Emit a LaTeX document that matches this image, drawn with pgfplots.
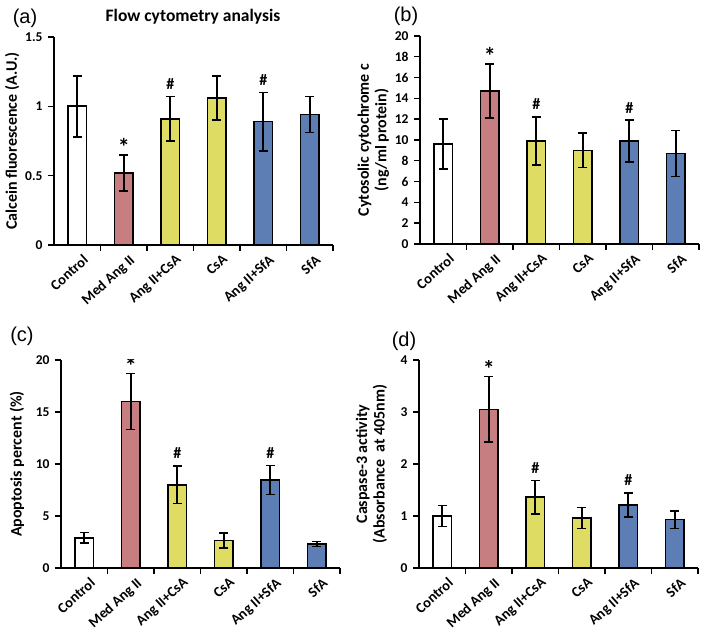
\documentclass[border=0pt]{standalone}
\usepackage{fontspec}
\setmainfont{Carlito}
\newfontfamily\letterfont{Liberation Sans}
\usepackage{pgfplots}
\pgfplotsset{compat=1.18}
\definecolor{barpink}{HTML}{C67E80}
\definecolor{baryellow}{HTML}{DEDC62}
\definecolor{barblue}{HTML}{5C7EB4}

\pgfplotsset{
  panel/.style={
    scale only axis, width=279pt, height=208pt,
    anchor=south west,
    axis lines*=left, axis line style={-, line width=1.7pt},
    xmin=-0.5, xmax=5.5, ymin=0,
    xtick={0,...,5},
    xticklabels={Control,Med Ang II,Ang II+CsA,CsA,Ang II+SfA,SfA},
    major x tick style={draw=none},
    extra x ticks={0.5,1.5,...,5.5},
    extra x tick labels={},
    extra x tick style={grid=none, major x tick style={draw=black}},
    tick align=outside, major tick length=6pt,
    tick style={line width=1.4pt, black},
    x tick label style={xshift=5pt, yshift=-2pt, rotate=42, anchor=north east, inner sep=0.5pt,
      font=\bfseries\fontsize{14.5}{14.5}\selectfont},
    y tick label style={xshift=-2pt, font=\bfseries\fontsize{13.5}{13.5}\selectfont},
    /pgf/number format/assume math mode=true,
    ylabel style={font=\bfseries\fontsize{16}{17.5}\selectfont, align=center, anchor=center},
  },
  bars/.style={draw=black, line width=1.7pt, bar shift=0pt,
    /pgfplots/error bars/y dir=both, /pgfplots/error bars/y explicit,
    /pgfplots/error bars/error bar style={line width=1.6pt, black},
    /pgfplots/error bars/error mark options={rotate=90, line width=1.6pt, mark size=4.5pt, black}},
}
% markers sit on the top of the error bar they belong to
\tikzset{
  sig/.style={font=\bfseries\fontsize{16}{16}\selectfont, anchor=south, inner sep=0pt, yshift=7pt},
  star/.style={font=\bfseries\fontsize{24}{24}\selectfont, anchor=south, inner sep=0pt, yshift=-1pt},
}

\begin{document}
\begin{tikzpicture}
\useasboundingbox (0,0) rectangle (701pt,634pt);

% (a) calcein
\begin{axis}[panel, ybar, bar width=0.4, at={(54pt,389pt)},
  ymax=1.5, ytick={0,0.5,1,1.5},
  ylabel={Calcein fluorescence (A.U.)},
  ylabel style={at={(axis description cs:-0.15,0.5)}}]
\addplot[bars, fill=white] coordinates {(0,1.00) +- (0,0.22)};
\addplot[bars, fill=barpink] coordinates {(1,0.52) +- (0,0.13)};
\addplot[bars, fill=baryellow] coordinates {(2,0.91) +- (0,0.16) (3,1.06) +- (0,0.16)};
\addplot[bars, fill=barblue] coordinates {(4,0.89) +- (0,0.21) (5,0.94) +- (0,0.13)};
\node[star] at (axis cs:1,0.65) {*};
\node[sig] at (axis cs:2,1.07) {\#};
\node[sig] at (axis cs:4,1.10) {\#};
\end{axis}

% (b) cytochrome c
\begin{axis}[panel, ybar, bar width=0.4, at={(420pt,390pt)},
  ymax=20, ytick={0,2,...,20},
  ylabel={Cytosolic cytochrome c\\(ng/ml protein)},
  ylabel style={at={(axis description cs:-0.167,0.5)}}]
\addplot[bars, fill=white] coordinates {(0,9.6) +- (0,2.4)};
\addplot[bars, fill=barpink] coordinates {(1,14.7) +- (0,2.6)};
\addplot[bars, fill=baryellow] coordinates {(2,9.9) +- (0,2.3) (3,9.0) +- (0,1.65)};
\addplot[bars, fill=barblue] coordinates {(4,9.9) +- (0,2.0) (5,8.7) +- (0,2.2)};
\node[star] at (axis cs:1,17.3) {*};
\node[sig] at (axis cs:2,12.2) {\#};
\node[sig] at (axis cs:4,11.9) {\#};
\end{axis}

% (c) apoptosis
\begin{axis}[panel, ybar, bar width=0.4, at={(61pt,66pt)},
  ymax=20, ytick={0,5,...,20},
  ylabel={Apoptosis percent (\%)},
  ylabel style={at={(axis description cs:-0.158,0.5)}}]
\addplot[bars, fill=white] coordinates {(0,2.9) +- (0,0.5)};
\addplot[bars, fill=barpink] coordinates {(1,16.0) +- (0,2.7)};
\addplot[bars, fill=baryellow] coordinates {(2,8.0) +- (0,1.8) (3,2.65) +- (0,0.7)};
\addplot[bars, fill=barblue] coordinates {(4,8.45) +- (0,1.4) (5,2.3) +- (0,0.25)};
\node[star] at (axis cs:1,18.7) {*};
\node[sig] at (axis cs:2,9.8) {\#};
\node[sig] at (axis cs:4,9.85) {\#};
\end{axis}

% (d) caspase-3
\begin{axis}[panel, ybar, bar width=0.4, at={(419pt,66pt)},
  ymax=4, ytick={0,1,...,4},
  ylabel={Caspase-3 activity\\(Absorbance\ \ at 405nm)},
  ylabel style={at={(axis description cs:-0.17,0.5)}}]
\addplot[bars, fill=white] coordinates {(0,1.0) +- (0,0.2)};
\addplot[bars, fill=barpink] coordinates {(1,3.05) +- (0,0.63)};
\addplot[bars, fill=baryellow] coordinates {(2,1.36) +- (0,0.32) (3,0.96) +- (0,0.2)};
\addplot[bars, fill=barblue] coordinates {(4,1.21) +- (0,0.23) (5,0.93) +- (0,0.17)};
\node[star] at (axis cs:1,3.68) {*};
\node[sig] at (axis cs:2,1.68) {\#};
\node[sig] at (axis cs:4,1.44) {\#};
\end{axis}

\node[font=\letterfont\fontsize{20}{20}\selectfont] at (25pt,616pt) {(a)};
\node[font=\letterfont\fontsize{20}{20}\selectfont] at (406pt,618pt) {(b)};
\node[font=\letterfont\fontsize{20}{20}\selectfont] at (22pt,298pt) {(c)};
\node[font=\letterfont\fontsize{20}{20}\selectfont] at (404pt,293pt) {(d)};
\node[font=\bfseries\fontsize{17.5}{17.5}\selectfont] at (193pt,617pt) {Flow cytometry analysis};
\end{tikzpicture}
\end{document}
